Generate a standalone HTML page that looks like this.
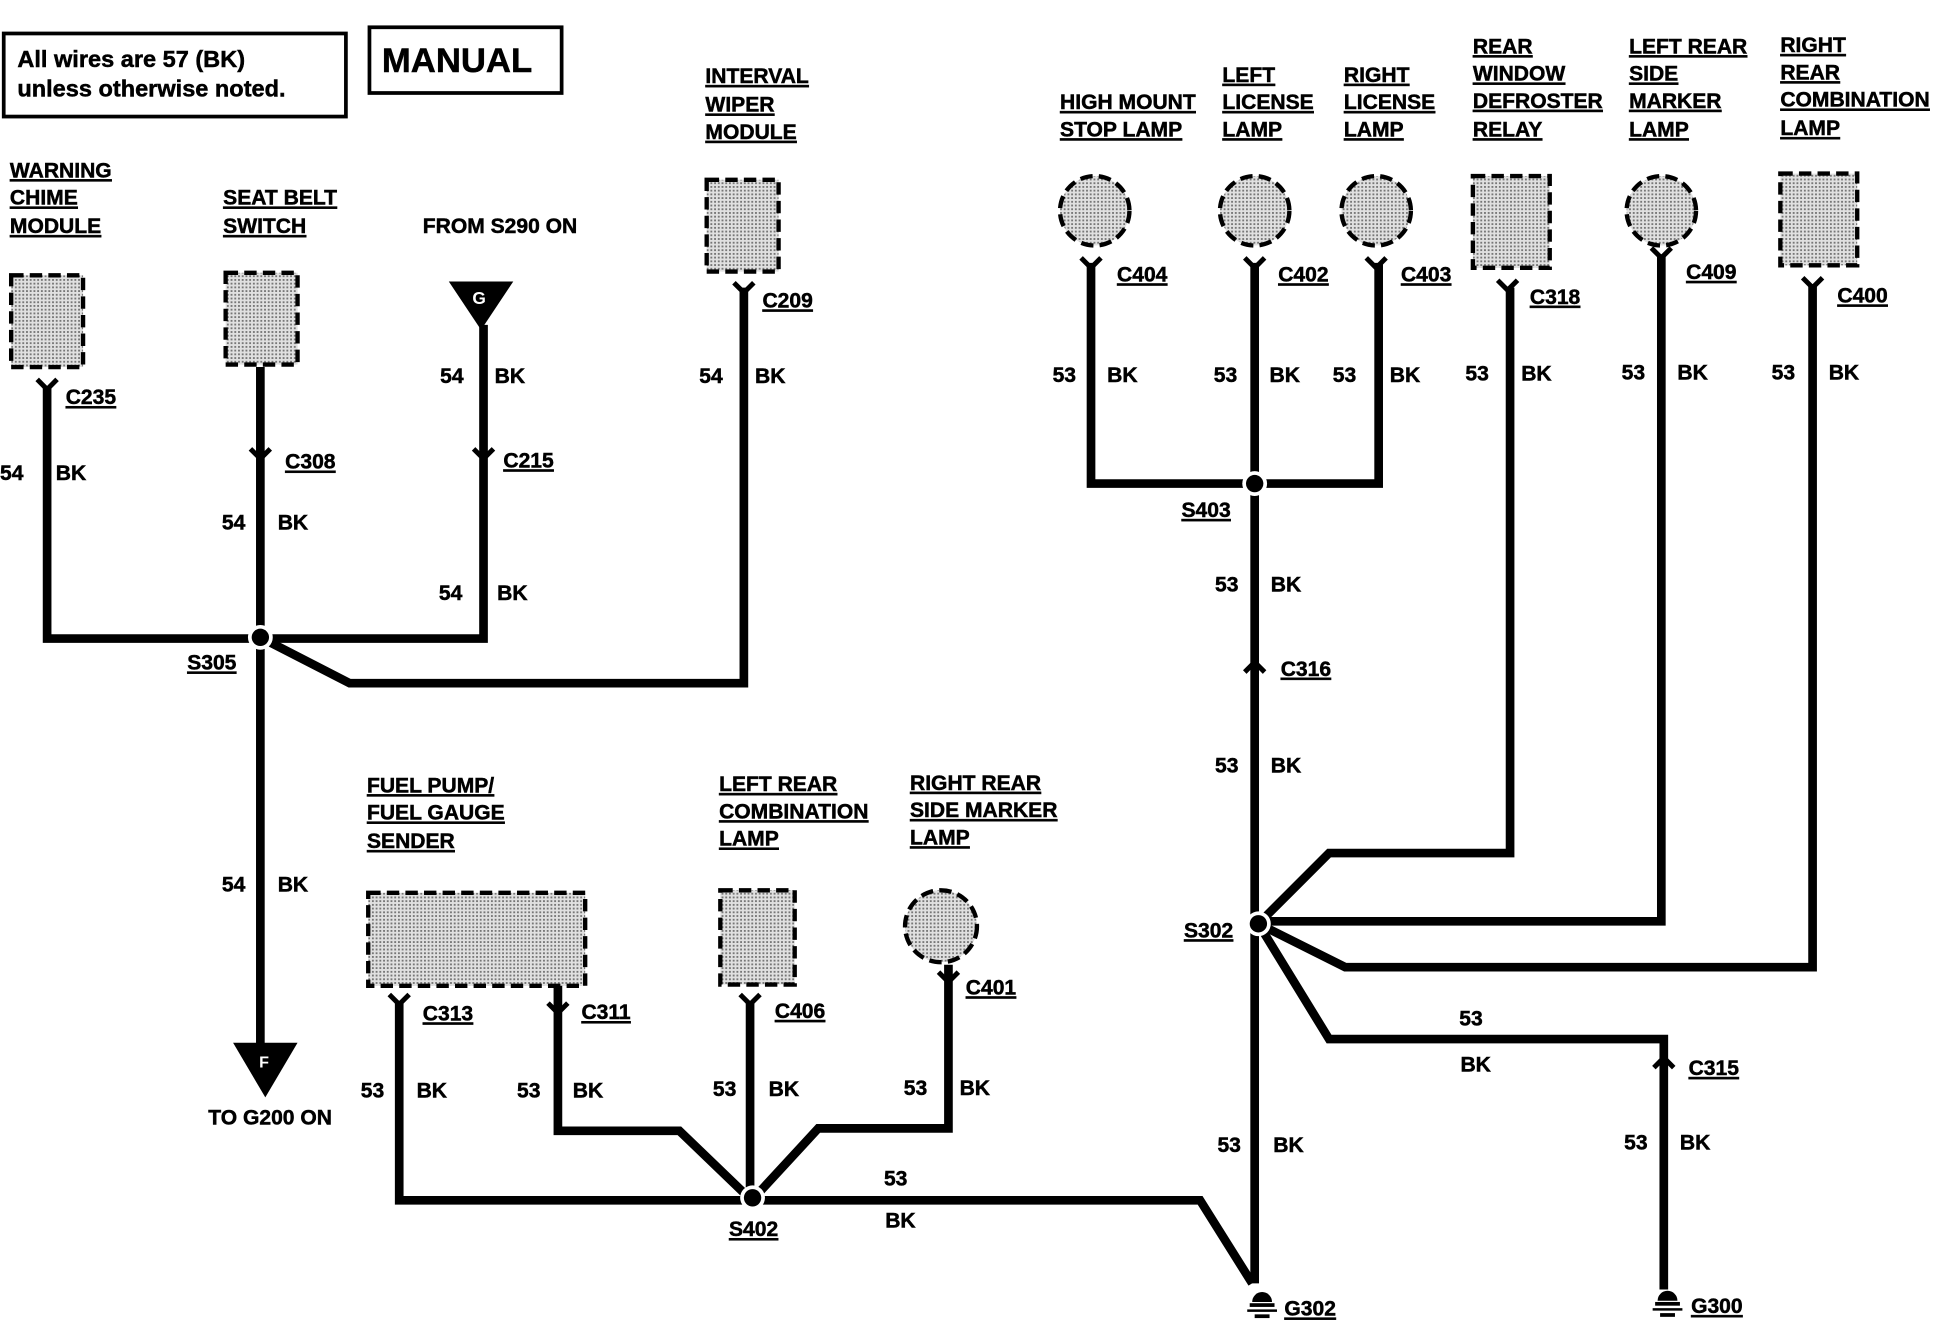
<!DOCTYPE html>
<html><head><meta charset="utf-8"><style>
html,body{margin:0;padding:0;background:#fff;}
svg{display:block;}
text{font-family:"Liberation Sans",Arial,sans-serif;font-weight:bold;font-size:17px;fill:#000;stroke:#000;stroke-width:0.4;}
.u{text-decoration:underline;}
.w{fill:none;stroke:#000;stroke-width:7;stroke-linejoin:miter;}
.c{fill:url(#dots);stroke:#000;stroke-width:3.5;stroke-dasharray:10 5;}
</style></head><body>
<svg width="1944" height="1328" viewBox="0 0 1568 1071" preserveAspectRatio="none" xmlns="http://www.w3.org/2000/svg">
<defs>
<pattern id="dots" width="3" height="3" patternUnits="userSpaceOnUse"><rect width="3" height="3" fill="#e0e0e0"/><rect width="1.5" height="1.5" fill="#777"/></pattern>
<g id="jn"><circle r="10" fill="#fff"/><circle r="7" fill="#000"/></g>
<g id="gnd"><path d="M-8,4 A8,8 0 0 1 8,4 Z" fill="#000"/><rect x="-10" y="5" width="20" height="3"/><rect x="-12" y="10" width="24" height="2"/><rect x="-6" y="14" width="12" height="3"/></g>
<g id="cv"><path d="M-8,-6 L0,2 L8,-6" fill="none" stroke="#000" stroke-width="4"/></g>
<g id="cu"><path d="M-8,6 L0,-2 L8,6" fill="none" stroke="#000" stroke-width="4"/></g>
</defs>

<rect x="3" y="27" width="276" height="67" fill="none" stroke="#000" stroke-width="3"/>
<text x="14" y="54" style="font-size:19px">All wires are 57 (BK)</text>
<text x="14" y="78" style="font-size:19px">unless otherwise noted.</text>
<rect x="298" y="22" width="155" height="53" fill="none" stroke="#000" stroke-width="3"/>
<text x="308" y="58" style="font-size:28px">MANUAL</text>

<rect class="c" x="9" y="222" width="58" height="74"/>
<text class="u" x="8" y="143">WARNING</text><text class="u" x="8" y="165">CHIME</text><text class="u" x="8" y="188">MODULE</text>
<rect class="c" x="182" y="220" width="58" height="74"/>
<text class="u" x="180" y="165">SEAT BELT</text><text class="u" x="180" y="188">SWITCH</text>
<text x="341" y="188">FROM S290 ON</text>
<polygon points="362,227 414,227 388,266" fill="#000"/><text x="381" y="245" style="fill:#fff;stroke:none;font-size:14px">G</text>
<rect class="c" x="570" y="145" width="58" height="74"/>
<text class="u" x="569" y="67">INTERVAL</text><text class="u" x="569" y="90">WIPER</text><text class="u" x="569" y="112">MODULE</text>

<circle class="c" cx="883" cy="170" r="28"/>
<text class="u" x="855" y="88">HIGH MOUNT</text><text class="u" x="855" y="110">STOP LAMP</text>
<circle class="c" cx="1012" cy="170" r="28"/>
<text class="u" x="986" y="66">LEFT</text><text class="u" x="986" y="88">LICENSE</text><text class="u" x="986" y="110">LAMP</text>
<circle class="c" cx="1110" cy="170" r="28"/>
<text class="u" x="1084" y="66">RIGHT</text><text class="u" x="1084" y="88">LICENSE</text><text class="u" x="1084" y="110">LAMP</text>
<rect class="c" x="1188" y="142" width="62" height="74"/>
<text class="u" x="1188" y="43">REAR</text><text class="u" x="1188" y="65">WINDOW</text><text class="u" x="1188" y="87">DEFROSTER</text><text class="u" x="1188" y="110">RELAY</text>
<circle class="c" cx="1340" cy="170" r="28"/>
<text class="u" x="1314" y="43">LEFT REAR</text><text class="u" x="1314" y="65">SIDE</text><text class="u" x="1314" y="87">MARKER</text><text class="u" x="1314" y="110">LAMP</text>
<rect class="c" x="1436" y="140" width="62" height="74"/>
<text class="u" x="1436" y="42">RIGHT</text><text class="u" x="1436" y="64">REAR</text><text class="u" x="1436" y="86">COMBINATION</text><text class="u" x="1436" y="109">LAMP</text>

<rect class="c" x="297" y="720" width="175" height="75"/>
<text class="u" x="296" y="639">FUEL PUMP/</text><text class="u" x="296" y="661">FUEL GAUGE</text><text class="u" x="296" y="684">SENDER</text>
<rect class="c" x="581" y="718" width="60" height="76"/>
<text class="u" x="580" y="638">LEFT REAR</text><text class="u" x="580" y="660">COMBINATION</text><text class="u" x="580" y="682">LAMP</text>
<circle class="c" cx="759" cy="747" r="29"/>
<text class="u" x="734" y="637">RIGHT REAR</text><text class="u" x="734" y="659">SIDE MARKER</text><text class="u" x="734" y="681">LAMP</text>

<path class="w" d="M38,312 V515 H390 V262"/>
<path class="w" d="M210,296 V845"/>
<path class="w" d="M210,514 L282,551 H600 V232"/>
<polygon points="188,841 240,841 214,885" fill="#000"/><text x="209" y="861" style="fill:#fff;stroke:none;font-size:13px">F</text>
<text x="168" y="907">TO G200 ON</text>
<use href="#cv" x="38" y="312"/><use href="#cv" x="210" y="368"/><use href="#cv" x="390" y="368"/><use href="#cv" x="600" y="234"/>
<use href="#jn" x="210" y="514"/>
<text class="u" x="53" y="326">C235</text><text class="u" x="230" y="378">C308</text><text class="u" x="406" y="377">C215</text><text class="u" x="615" y="248">C209</text>
<text class="u" x="151" y="540">S305</text>
<text x="0" y="387">54</text><text x="45" y="387">BK</text>
<text x="179" y="427">54</text><text x="224" y="427">BK</text>
<text x="355" y="309">54</text><text x="399" y="309">BK</text>
<text x="354" y="484">54</text><text x="401" y="484">BK</text>
<text x="564" y="309">54</text><text x="609" y="309">BK</text>
<text x="179" y="719">54</text><text x="224" y="719">BK</text>

<path class="w" d="M880,212 V390 H1112 V212"/>
<path class="w" d="M1012,212 V1035"/>
<path class="w" d="M1015,745 L1072,688 H1218 V232"/>
<path class="w" d="M1015,743 H1340 V205"/>
<path class="w" d="M1015,745 L1085,780 H1462 V230"/>
<path class="w" d="M1015,745 L1072,838 H1342 V1040"/>
<use href="#cv" x="880" y="214"/><use href="#cv" x="1012" y="214"/><use href="#cv" x="1110" y="214"/><use href="#cv" x="1216" y="232"/><use href="#cv" x="1340" y="206"/><use href="#cv" x="1462" y="230"/>
<use href="#cu" x="1012" y="536"/><use href="#cu" x="1342" y="855"/>
<use href="#jn" x="1012" y="390"/><use href="#jn" x="1015" y="745"/>
<text class="u" x="901" y="227">C404</text><text class="u" x="1031" y="227">C402</text><text class="u" x="1130" y="227">C403</text><text class="u" x="1234" y="245">C318</text><text class="u" x="1360" y="225">C409</text><text class="u" x="1482" y="244">C400</text>
<text class="u" x="1033" y="545">C316</text><text class="u" x="1362" y="867">C315</text>
<text class="u" x="953" y="417">S403</text><text class="u" x="955" y="756">S302</text>
<text x="849" y="308">53</text><text x="893" y="308">BK</text>
<text x="979" y="308">53</text><text x="1024" y="308">BK</text>
<text x="1075" y="308">53</text><text x="1121" y="308">BK</text>
<text x="1182" y="307">53</text><text x="1227" y="307">BK</text>
<text x="1308" y="306">53</text><text x="1353" y="306">BK</text>
<text x="1429" y="306">53</text><text x="1475" y="306">BK</text>
<text x="980" y="477">53</text><text x="1025" y="477">BK</text>
<text x="980" y="623">53</text><text x="1025" y="623">BK</text>
<text x="1177" y="827">53</text><text x="1178" y="864">BK</text>
<text x="982" y="929">53</text><text x="1027" y="929">BK</text>
<text x="1310" y="927">53</text><text x="1355" y="927">BK</text>

<path class="w" d="M322,808 V968 H968 L1010,1035"/>
<path class="w" d="M450,795 V912 H548 L600,962"/>
<path class="w" d="M605,808 V966"/>
<path class="w" d="M765,778 V910 H660 L612,962"/>
<use href="#cv" x="322" y="808"/><use href="#cv" x="450" y="815"/><use href="#cv" x="605" y="808"/><use href="#cv" x="765" y="790"/>
<use href="#jn" x="607" y="966"/>
<use href="#gnd" x="1018" y="1046"/><use href="#gnd" x="1345" y="1045"/>
<text class="u" x="1036" y="1061">G302</text><text class="u" x="1364" y="1059">G300</text>
<text class="u" x="341" y="823">C313</text><text class="u" x="469" y="822">C311</text><text class="u" x="625" y="821">C406</text><text class="u" x="779" y="802">C401</text>
<text class="u" x="588" y="997">S402</text>
<text x="291" y="885">53</text><text x="336" y="885">BK</text>
<text x="417" y="885">53</text><text x="462" y="885">BK</text>
<text x="575" y="884">53</text><text x="620" y="884">BK</text>
<text x="729" y="883">53</text><text x="774" y="883">BK</text>
<text x="713" y="956">53</text><text x="714" y="990">BK</text>
</svg>
</body></html>
